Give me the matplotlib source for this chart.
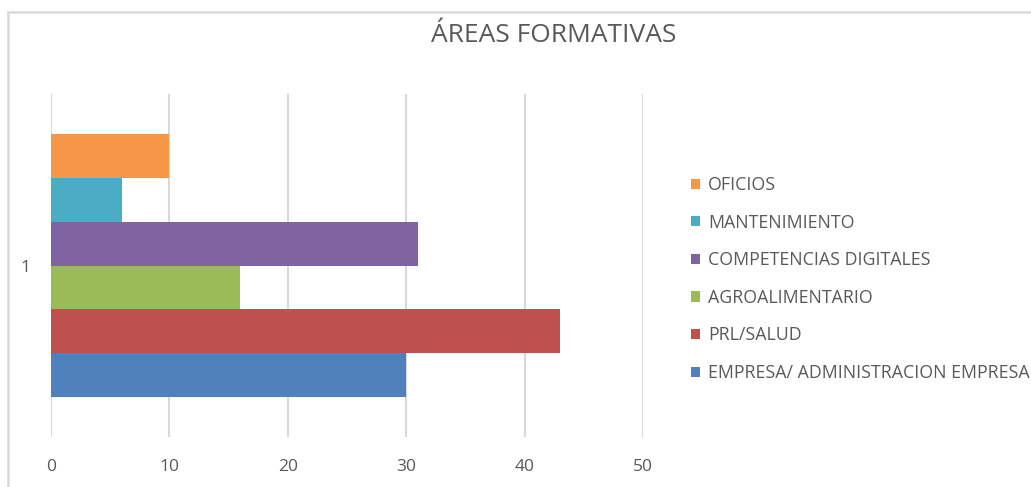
import matplotlib
matplotlib.use('Agg')
import matplotlib.pyplot as plt
from matplotlib.patches import Patch
from matplotlib.lines import Line2D

plt.rcParams['font.family'] = ['Open Sans', 'DejaVu Sans']

# datos (de abajo arriba, como en Excel)
series = ['EMPRESA/ ADMINISTRACION EMPRESA', 'PRL/SALUD', 'AGROALIMENTARIO',
          'COMPETENCIAS DIGITALES', 'MANTENIMIENTO', 'OFICIOS']
values = [30, 43, 16, 31, 6, 10]
colors = ['#4F81BD', '#C0504D', '#9BBB59', '#8064A2', '#4BACC6', '#F79646']
category = '1'
xticks = [0, 10, 20, 30, 40, 50]

TEXT = '#595959'
GRID = '#D9D9D9'

fig = plt.figure(figsize=(10.31, 4.87), dpi=100)
fig.patch.set_facecolor('white')
W, H = 1031, 487
ax = fig.add_axes([51 / W, (H - 437) / H, (643 - 51) / W, (437 - 94) / H])

n = len(values)
bar_h = 0.767 / n
start = -0.767 / 2 + bar_h / 2
for i, (s, v, c) in enumerate(zip(series, values, colors)):
    ax.barh(start + i * bar_h, v, height=bar_h, color=c, label=s, zorder=3)

ax.set_xlim(0, 50)
ax.set_ylim(-0.5, 0.5)
ax.set_xticks(xticks)
ax.set_xticklabels([str(t) for t in xticks], fontsize=12.5, color=TEXT)
ax.set_yticks([0])
ax.set_yticklabels([category], fontsize=12.5, color=TEXT)
ax.tick_params(axis='x', length=0, pad=16)
ax.tick_params(axis='y', length=0, pad=15)
ax.xaxis.grid(True, color=GRID, linewidth=1.5, zorder=0)
for sp in ax.spines.values():
    sp.set_visible(False)

fig.text(554 / W, 1 - 36 / H, 'ÁREAS FORMATIVAS', ha='center', va='center',
         fontsize=19, color=TEXT)

# leyenda (orden inverso, como Excel)
handles = [Patch(facecolor=c, edgecolor='none') for c in colors][::-1]
fig.legend(handles, series[::-1], loc='center left',
           bbox_to_anchor=(675 / W, 1 - 279 / H), frameon=False,
           fontsize=12.8, labelcolor=TEXT, handlelength=0.5, handleheight=0.5,
           handletextpad=0.45, labelspacing=1.1)

# borde del gráfico
fig.add_artist(Line2D([7.5 / W, 7.5 / W], [0, 1 - 11.5 / H], transform=fig.transFigure,
                      color=GRID, linewidth=1.8))
fig.add_artist(Line2D([7.5 / W, 1], [1 - 11.5 / H, 1 - 11.5 / H], transform=fig.transFigure,
                      color=GRID, linewidth=1.8))

fig.savefig('out.png', dpi=100, facecolor='white')
